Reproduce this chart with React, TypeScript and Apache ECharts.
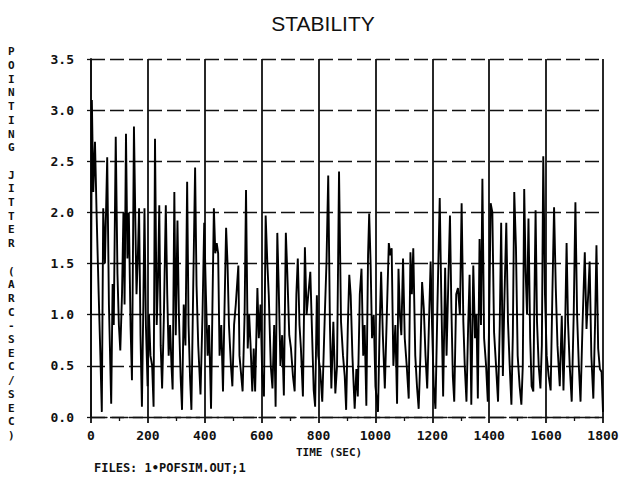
import React, { useEffect, useRef } from "react";
import * as echarts from "echarts";

// Time (s) and pointing jitter (arc-sec/sec), segment by segment
const seg0to400: [number, number][] = [
  [0, 1.0], [3, 3.1], [8, 2.2], [14, 2.69], [20, 1.95], [27, 1.2], [33, 0.6], [38, 0.05],
  [43, 2.04], [49, 1.5], [57, 2.54], [63, 1.1], [71, 0.13], [76, 1.3], [80, 0.9], [87, 2.74],
  [93, 1.4], [98, 0.9], [103, 0.65], [109, 1.2], [114, 2.0], [118, 1.1], [123, 2.77], [128, 1.55],
  [133, 2.0], [139, 0.9], [144, 0.36], [151, 2.84], [156, 1.9], [160, 1.2], [165, 1.6], [169, 2.04],
  [174, 0.8], [179, 0.1], [184, 1.1], [188, 2.04], [193, 0.9], [199, 0.3], [204, 1.0], [209, 0.6],
  [215, 0.5], [220, 0.1], [225, 2.72], [231, 0.9], [236, 1.4], [240, 2.07], [245, 0.7], [250, 0.28],
  [256, 0.95], [263, 2.07], [268, 1.2], [273, 0.6], [278, 0.9], [283, 0.5], [287, 0.27], [293, 2.2],
  [298, 0.8], [304, 1.92], [309, 1.0], [315, 0.4], [320, 0.07], [326, 1.1], [332, 0.7], [338, 2.3],
  [343, 0.9], [348, 0.4], [353, 0.07], [359, 1.2], [366, 2.44], [371, 1.29], [377, 0.7], [385, 0.22],
  [392, 1.0], [398, 1.9],
];
const seg400to800: [number, number][] = [
  [404, 1.2], [410, 0.6], [415, 0.9], [422, 0.08], [427, 1.1], [432, 2.04], [437, 1.6], [442, 1.7],
  [447, 1.6], [452, 0.6], [458, 0.9], [464, 0.25], [469, 1.0], [475, 1.85], [480, 1.5], [485, 0.9],
  [492, 0.5], [497, 0.3], [503, 0.9], [509, 1.1], [518, 1.48], [522, 0.6], [527, 0.44], [533, 0.25],
  [540, 1.0], [545, 2.22], [551, 0.67], [556, 1.0], [561, 0.7], [567, 0.25], [572, 0.67], [577, 0.25],
  [585, 1.26], [590, 0.77], [596, 1.1], [602, 0.4], [608, 0.2], [614, 1.97], [620, 1.5], [625, 1.19],
  [632, 0.5], [638, 0.28], [644, 0.9], [649, 0.1], [655, 1.8], [660, 1.26], [666, 0.5], [672, 0.8],
  [678, 0.21], [685, 1.8], [690, 1.42], [697, 0.8], [703, 0.67], [710, 0.4], [716, 0.25], [722, 1.2],
  [727, 1.55], [733, 0.9], [738, 0.67], [745, 0.2], [752, 1.66], [758, 1.0], [764, 1.2], [771, 1.42],
  [776, 0.93], [783, 0.26], [788, 0.1], [794, 1.19], [799, 0.6],
];
const seg800to1200: [number, number][] = [
  [806, 0.45], [813, 0.15], [822, 1.0], [828, 1.52], [834, 2.36], [840, 0.9], [845, 0.28], [852, 0.93],
  [859, 0.23], [865, 0.5], [872, 2.4], [879, 0.93], [886, 0.6], [892, 0.4], [897, 0.07], [903, 0.9],
  [908, 1.39], [913, 1.19], [919, 0.6], [927, 0.08], [933, 0.47], [938, 0.2], [945, 1.2], [951, 1.45],
  [957, 0.6], [962, 0.9], [968, 0.11], [974, 1.58], [978, 1.99], [983, 1.5], [988, 0.77], [994, 1.0],
  [1000, 0.3], [1009, 0.05], [1015, 0.9], [1020, 1.42], [1026, 0.8], [1033, 0.28], [1040, 1.0], [1047, 1.7],
  [1052, 1.58], [1057, 1.65], [1063, 0.5], [1070, 0.9], [1076, 0.13], [1081, 1.45], [1086, 1.0], [1091, 0.8],
  [1097, 1.55], [1103, 0.77], [1110, 0.5], [1117, 0.18], [1123, 1.61], [1128, 1.2], [1133, 1.65], [1140, 0.6],
  [1146, 0.3], [1152, 0.08], [1158, 0.6], [1164, 1.32], [1170, 1.06], [1176, 0.6], [1182, 0.28], [1188, 0.9],
  [1194, 1.52], [1199, 0.9],
];
const seg1200to1600: [number, number][] = [
  [1205, 0.3], [1211, 0.08], [1218, 1.1], [1226, 2.14], [1231, 1.26], [1238, 0.2], [1245, 1.46], [1250, 0.6],
  [1256, 1.3], [1262, 1.97], [1267, 1.06], [1272, 0.4], [1277, 0.15], [1284, 1.2], [1290, 1.26], [1297, 1.0],
  [1303, 2.09], [1309, 0.93], [1314, 0.5], [1320, 0.15], [1326, 0.9], [1331, 1.39], [1337, 0.12], [1344, 1.48],
  [1350, 0.77], [1355, 1.0], [1360, 0.18], [1366, 1.74], [1371, 0.9], [1376, 2.33], [1382, 0.77], [1389, 0.5],
  [1395, 0.15], [1400, 1.0], [1405, 2.09], [1411, 2.0], [1417, 0.83], [1424, 0.5], [1431, 0.15], [1437, 0.9],
  [1442, 1.9], [1448, 0.4], [1453, 1.1], [1460, 1.9], [1466, 0.93], [1472, 0.5], [1478, 0.12], [1483, 0.8],
  [1488, 2.2], [1494, 1.66], [1500, 0.6], [1507, 0.3], [1513, 0.12], [1518, 0.5], [1523, 2.23], [1528, 1.42],
  [1533, 1.0], [1538, 1.94], [1544, 0.77], [1549, 0.3], [1555, 0.25], [1558, 0.95], [1563, 2.02], [1568, 0.93],
  [1574, 0.5], [1580, 0.28], [1585, 0.7], [1590, 2.55], [1596, 1.2],
];
const seg1600to1800: [number, number][] = [
  [1602, 0.6], [1609, 0.4], [1616, 0.26], [1622, 1.2], [1628, 2.05], [1634, 1.26], [1640, 0.7], [1648, 0.3],
  [1655, 0.99], [1661, 0.26], [1667, 0.9], [1672, 1.7], [1677, 0.93], [1683, 0.5], [1690, 0.15], [1697, 1.0],
  [1703, 2.1], [1709, 0.99], [1715, 0.5], [1721, 0.15], [1728, 0.9], [1736, 1.61], [1742, 0.86], [1748, 1.2],
  [1753, 1.52], [1759, 0.6], [1766, 0.18], [1772, 0.9], [1777, 1.68], [1783, 0.67], [1789, 0.47], [1795, 0.44],
  [1800, 0.05],
];

const yTicks = [0, 0.5, 1.0, 1.5, 2.0, 2.5, 3.0, 3.5];
const xTicks = [0, 200, 400, 600, 800, 1000, 1200, 1400, 1600, 1800];

const TITLE = "STABILITY";
const Y_NAME = "POINTING JITTER (ARC-SEC/SEC)";
const X_NAME = "TIME (SEC)";
const FOOTER = "FILES: 1•POFSIM.OUT;1";

const MONO = "'DejaVu Sans Mono', 'Liberation Mono', monospace";

export default function App() {
  const ref = useRef<HTMLDivElement>(null);

  useEffect(() => {
    if (!ref.current) return;
    const chart = echarts.init(ref.current, undefined, { renderer: "svg" });
    const data = [
      ...seg0to400,
      ...seg400to800,
      ...seg800to1200,
      ...seg1200to1600,
      ...seg1600to1800,
    ];
    chart.setOption({
      animation: false,
      backgroundColor: "#ffffff",
      title: {
        text: TITLE,
        left: 318,
        textAlign: "center",
        top: 8,
        textStyle: {
          fontFamily: "'Liberation Sans', Arial, sans-serif",
          fontWeight: "normal",
          fontSize: 21,
          color: "#111",
        },
      },
      grid: { left: 91, right: 31, top: 59, bottom: 68, containLabel: false },
      xAxis: {
        type: "value",
        min: xTicks[0],
        max: xTicks[xTicks.length - 1],
        interval: 200,
        axisLine: {
          show: true,
          onZero: false,
          lineStyle: { color: "#111", width: 1.3, type: [16, 5] },
        },
        axisTick: { show: true, length: 6, lineStyle: { color: "#111", width: 1.8 } },
        minorTick: { show: true, splitNumber: 2, length: 4, lineStyle: { color: "#111", width: 1.3 } },
        splitLine: { show: true, lineStyle: { color: "#111", width: 1.8, type: "solid" } },
        axisLabel: {
          margin: 12,
          color: "#111",
          fontFamily: MONO,
          fontWeight: "bold",
          fontSize: 13,
          formatter: (v: number) => String(v),
        },
      },
      yAxis: {
        type: "value",
        min: yTicks[0],
        max: yTicks[yTicks.length - 1],
        interval: 0.5,
        axisLine: { show: true, lineStyle: { color: "#111", width: 1.8 } },
        axisTick: { show: true, length: 4, lineStyle: { color: "#111", width: 1.3 } },
        splitLine: { show: true, lineStyle: { color: "#111", width: 1.3, type: [14, 5] } },
        axisLabel: {
          margin: 17,
          color: "#111",
          fontFamily: MONO,
          fontWeight: "bold",
          fontSize: 13,
          formatter: (v: number) => v.toFixed(1),
        },
      },
      graphic: [
        {
          type: "text",
          left: 8,
          top: 45,
          style: {
            text: Y_NAME.split("").join("\n"),
            font: `bold 11px ${MONO}`,
            lineHeight: 13.7,
            fill: "#111",
            align: "center",
          },
        },
        {
          type: "text",
          left: 296,
          top: 447,
          style: { text: X_NAME, font: `bold 11px ${MONO}`, fill: "#111" },
        },
        {
          type: "text",
          left: 94,
          top: 462,
          style: { text: FOOTER, font: `bold 12px ${MONO}`, fill: "#111" },
        },
      ],
      series: [
        {
          type: "line",
          data,
          showSymbol: false,
          symbol: "none",
          lineStyle: { color: "#000", width: 1.9 },
          clip: true,
        },
      ],
    });
    return () => chart.dispose();
  }, []);

  return (
    <div
      ref={ref}
      style={{ position: "fixed", left: 0, top: 0, width: 634, height: 485, background: "#fff" }}
    />
  );
}
